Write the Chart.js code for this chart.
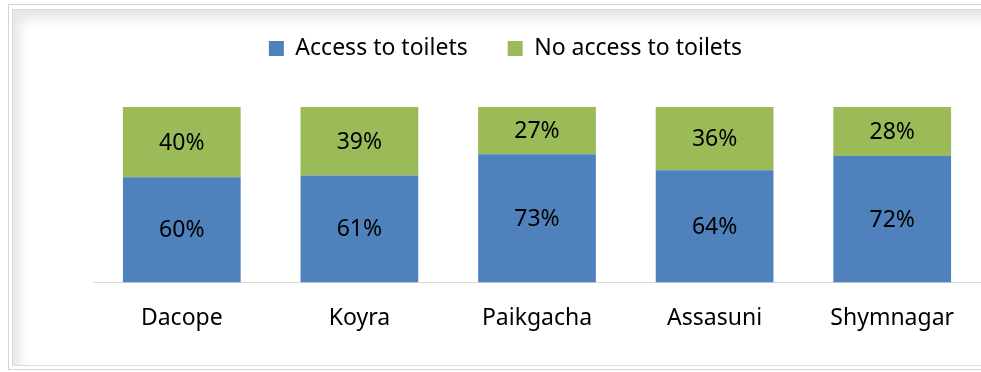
<!DOCTYPE html>
<html>
<head>
<meta charset="utf-8">
<script src="https://cdn.jsdelivr.net/npm/chart.js@4/dist/chart.umd.min.js"></script>
<style>
  body { margin: 0; background: #fff; }
  #wrap { position: relative; width: 981px; height: 372px; overflow: hidden; }
  .outer { position: absolute; left: 8px; top: 4px; width: 990px; height: 364px; border: 1px solid #d4d4d4; }
  .inner { position: absolute; left: 3px; top: 4px; right: 0; bottom: 3px; border: 1px solid #dcdcdc;
           box-shadow: inset 7px 9px 12px rgba(0,0,0,0.10); }
  canvas { position: absolute; left: 0; top: 0; }
</style>
</head>
<body>
<div id="wrap">
  <div class="outer"><div class="inner"></div></div>
  <canvas id="toiletChart" width="981" height="372"></canvas>
</div>
<script>
var districts = ["Dacope", "Koyra", "Paikgacha", "Assasuni", "Shymnagar"];
var withAccess = [60, 61, 73, 64, 72];
var noAccess = [40, 39, 27, 36, 28];

var font = "'Noto Sans', 'Open Sans', sans-serif";

// writes the percentage in the middle of every bar segment
var segmentLabels = {
  id: "segmentLabels",
  afterDatasetsDraw: function(chart) {
    var ctx = chart.ctx;
    ctx.save();
    ctx.font = "23px " + font;
    ctx.fillStyle = "#000";
    ctx.textAlign = "center";
    ctx.textBaseline = "middle";
    chart.data.datasets.forEach(function(ds, i) {
      chart.getDatasetMeta(i).data.forEach(function(bar, j) {
        var mid = (bar.y + bar.base) / 2;
        ctx.fillText(ds.data[j] + "%", bar.x, mid + 1);
      });
    });
    ctx.restore();
  }
};

// extra room under the legend
var legendGap = {
  id: "legendGap",
  beforeInit: function(chart) {
    var fit = chart.legend.fit;
    chart.legend.fit = function() {
      fit.call(this);
      this.height += 37;
    };
  }
};

var toiletChart = new Chart(document.getElementById("toiletChart"), {
  type: "bar",
  data: {
    labels: districts,
    datasets: [
      { label: "Access to toilets", data: withAccess, backgroundColor: "#4F81BD" },
      { label: "No access to toilets", data: noAccess, backgroundColor: "#9BBB59" }
    ]
  },
  options: {
    responsive: false,
    animation: false,
    layout: { padding: { left: 30, right: 0, top: -3, bottom: 26 } },
    datasets: { bar: { categoryPercentage: 0.663, barPercentage: 1 } },
    scales: {
      x: {
        stacked: true,
        grid: { display: false },
        border: { color: "#d9d9d9", width: 1 },
        ticks: { color: "#000", font: { family: font, size: 23 }, padding: 14 }
      },
      y: {
        stacked: true, min: 0, max: 100,
        grid: { display: false },
        border: { display: false },
        ticks: { display: false },
        afterFit: function(scale) { scale.width = 63; }
      }
    },
    plugins: {
      legend: {
        position: "top",
        labels: { color: "#000", font: { family: font, size: 23 }, boxWidth: 15, boxHeight: 15, padding: 40 }
      },
      tooltip: { enabled: false }
    }
  },
  plugins: [segmentLabels, legendGap]
});
</script>
</body>
</html>
